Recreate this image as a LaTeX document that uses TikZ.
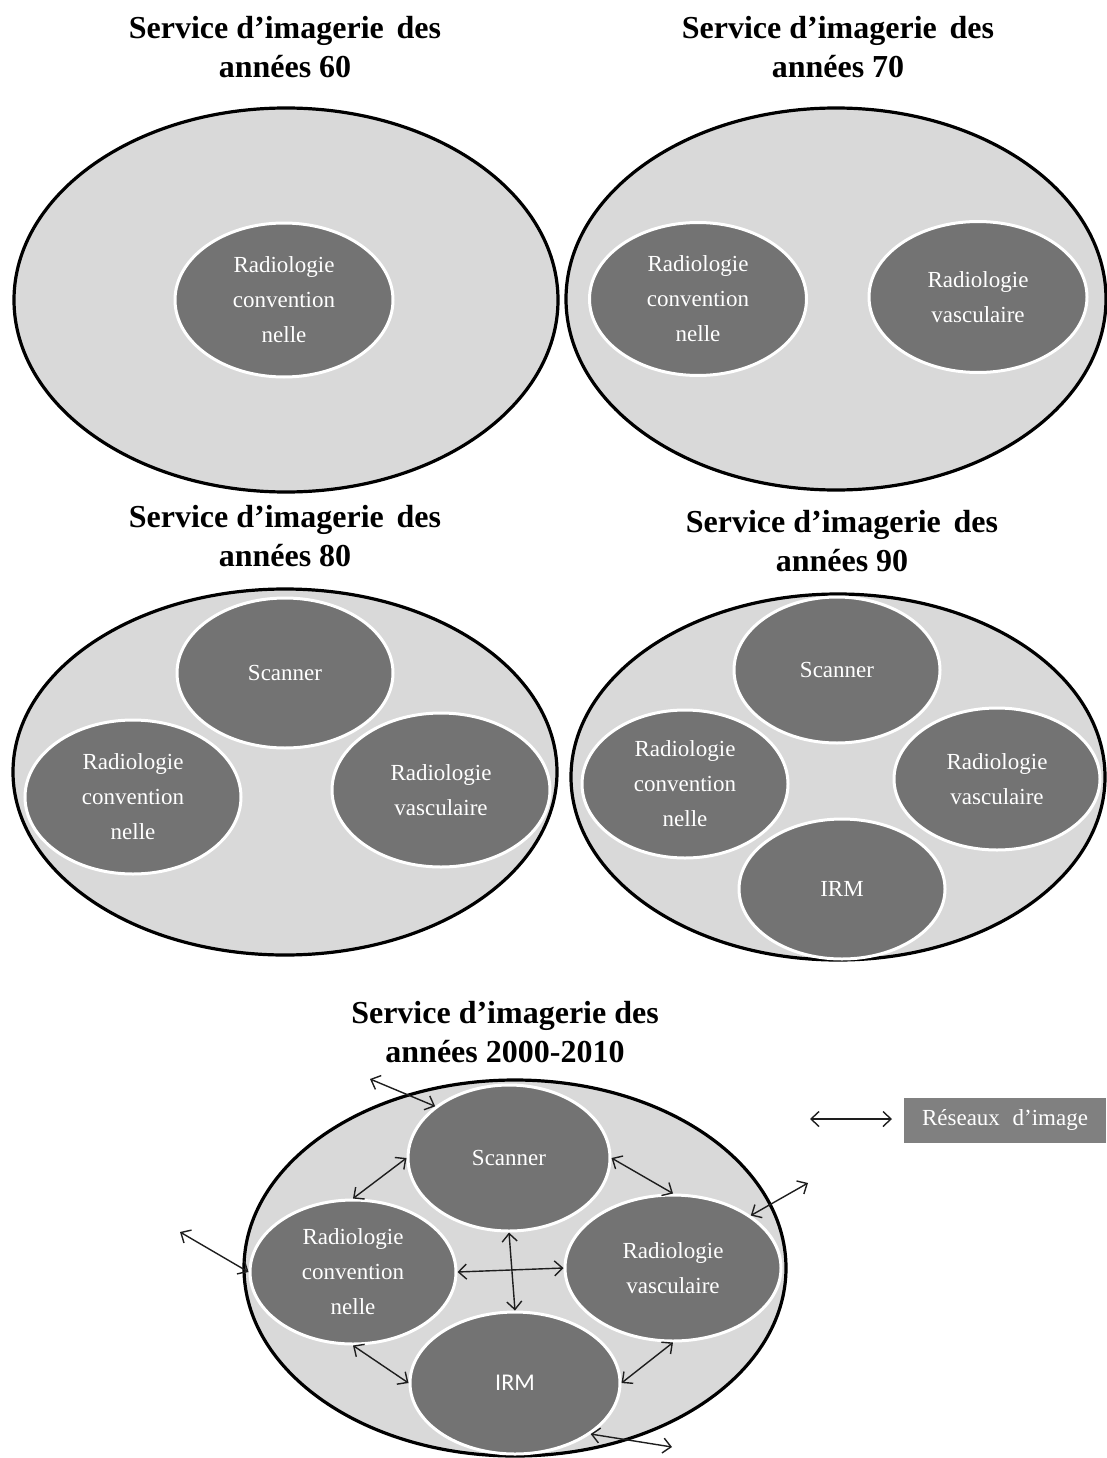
\documentclass[tikz,border=0pt]{standalone}
\usepackage{fontspec}
\setmainfont{Liberation Serif}
\newfontfamily\calibrifont{Carlito}
\usetikzlibrary{shapes.geometric,arrows.meta}
\definecolor{outerfill}{RGB}{217,217,217}
\definecolor{innerfill}{RGB}{115,115,115}
\definecolor{legendfill}{RGB}{128,128,128}
\definecolor{arrowcol}{RGB}{30,30,30}
\tikzset{
  outerell/.style={ellipse, draw=black, line width=3.2pt, fill=outerfill, inner sep=0pt},
  innerell/.style={ellipse, draw=white, line width=3pt, fill=innerfill, inner sep=0pt,
    text=white, align=center, font=\fontsize{23}{35}\selectfont},
  titletext/.style={align=center, font=\bfseries\fontsize{32}{39}\selectfont, inner sep=0pt},
  linkarrow/.style={draw=arrowcol, line width=1.4pt,
    {Straight Barb[length=8pt,width=15pt]}-{Straight Barb[length=8pt,width=15pt]}},
  legendbox/.style={fill=legendfill, text=white, inner sep=0pt, minimum width=202pt,
    minimum height=45pt, font=\fontsize{23}{28}\selectfont}
}
\begin{document}
\begin{tikzpicture}[x=1pt,y=-1pt]
\useasboundingbox (0,0) rectangle (1106,1458);

% ---------- 60s ----------
\node[titletext] (t60) at (285,47) {Service d’imagerie\hspace{0.15em} des\\années 60};
\node[outerell, minimum width=544pt, minimum height=384pt] (o60) at (286,300) {};
\node[innerell, minimum width=218pt, minimum height=154pt] (rc60) at (284,300) {Radiologie\\convention\\nelle};

% ---------- 70s ----------
\node[titletext] (t70) at (838,47) {Service d’imagerie\hspace{0.15em} des\\années 70};
\node[outerell, minimum width=540pt, minimum height=382pt] (o70) at (836,299) {};
\node[innerell, minimum width=217pt, minimum height=153pt] (rc70) at (698,299) {Radiologie\\convention\\nelle};
\node[innerell, minimum width=218pt, minimum height=151pt] (rv70) at (978,297) {Radiologie\\vasculaire};

% ---------- 80s ----------
\node[titletext] (t80) at (285,536) {Service d’imagerie\hspace{0.15em} des\\années 80};
\node[outerell, minimum width=544pt, minimum height=366pt] (o80) at (285,772) {};
\node[innerell, minimum width=216pt, minimum height=150pt] (sc80) at (285,673) {Scanner};
\node[innerell, minimum width=216pt, minimum height=154pt] (rc80) at (133,797) {Radiologie\\convention\\nelle};
\node[innerell, minimum width=218pt, minimum height=154pt] (rv80) at (441,790) {Radiologie\\vasculaire};

% ---------- 90s ----------
\node[titletext] (t90) at (842,541) {Service d’imagerie\hspace{0.15em} des\\années 90};
\node[outerell, minimum width=534pt, minimum height=366pt] (o90) at (838,777) {};
\node[innerell, minimum width=206pt, minimum height=146pt] (sc90) at (837,670) {Scanner};
\node[innerell, minimum width=206pt, minimum height=148pt] (rc90) at (685,784) {Radiologie\\convention\\nelle};
\node[innerell, minimum width=206pt, minimum height=142pt] (rv90) at (997,779) {Radiologie\\vasculaire};
\node[innerell, minimum width=206pt, minimum height=140pt] (irm90) at (842,889) {IRM};

% ---------- 2000-2010 ----------
\node[titletext] (t00) at (505,1032) {Service d’imagerie des\\années 2000-2010};
\node[outerell, minimum width=542pt, minimum height=376pt] (o00) at (515,1268) {};
\node[innerell, minimum width=202pt, minimum height=146pt] (sc00) at (509,1158) {Scanner};
\node[innerell, minimum width=206pt, minimum height=144pt] (rc00) at (353,1272) {Radiologie\\convention\\nelle};
\node[innerell, minimum width=216pt, minimum height=146pt] (rv00) at (673,1268) {Radiologie\\vasculaire};
\node[innerell, minimum width=210pt, minimum height=142pt, font=\calibrifont\fontsize{24}{28}\selectfont] (irm00) at (515,1383) {IRM};

% free ends of network links
\coordinate (fTL) at (370,1079);
\coordinate (fR) at (808,1183);
\coordinate (fL) at (180,1232);
\coordinate (fB) at (672,1447);

\draw[linkarrow] (fTL) -- (sc00.145);
\draw[linkarrow] (sc00.180) -- (rc00.90);
\draw[linkarrow] (sc00.0) -- (rv00.90);
\draw[linkarrow] (rv00.34) -- (fR);
\draw[linkarrow] (fL) -- (rc00.180);
\draw[linkarrow] (rc00.0) -- (rv00.180);
\draw[linkarrow] (sc00.270) -- (irm00.90);
\draw[linkarrow] (rc00.270) -- (irm00.180);
\draw[linkarrow] (irm00.0) -- (rv00.270);
\draw[linkarrow] (irm00.-34) -- (fB);

% ---------- legend ----------
\coordinate (lg1) at (810,1119);
\coordinate (lg2) at (892,1119);
\draw[linkarrow] (lg1) -- (lg2);
\node[legendbox] (lgbox) at (1005,1120) {Réseaux\hspace{0.3em} d’image};
\end{tikzpicture}
\end{document}
